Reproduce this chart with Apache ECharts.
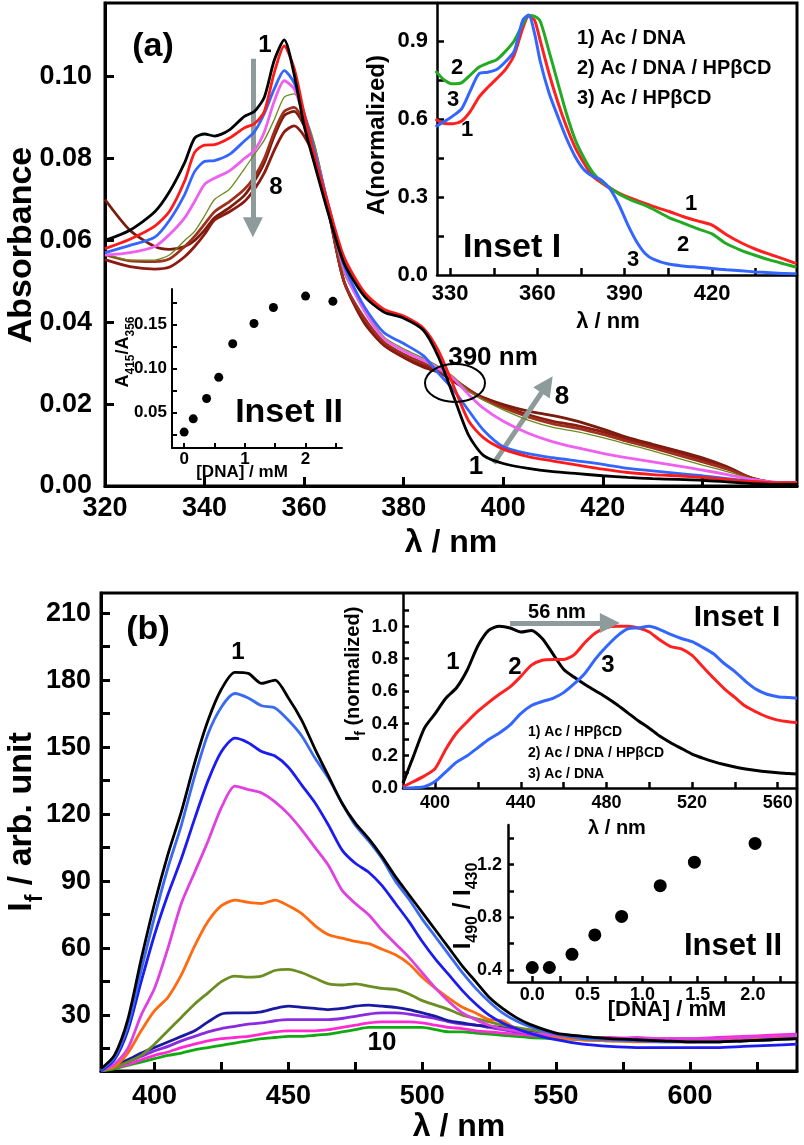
<!DOCTYPE html>
<html>
<head>
<meta charset="utf-8">
<title>Ac / DNA / HPbCD spectra</title>
<script src="https://cdn.jsdelivr.net/npm/echarts@6/dist/echarts.min.js"></script>
<style>
  html, body { margin: 0; padding: 0; background: #fff; }
  #main { width: 804px; height: 1145px; }
</style>
</head>
<body>
<div id="main"></div>
<script>
// ---- (a) absorption, curves 1..8 ----
var waveA = [320,325,330,333,336,338,340,342,345,348,350,352,354,356,358,360,362,365,368,372,376,380,384,387,390,393,396,400,405,410,415,420,425,430,435,440,445,450,455,459];
var absA1 = [.0600,.0625,.0670,.0720,.0790,.0850,.0860,.0855,.0870,.0903,.0915,.0950,.1040,.1090,.1005,.0880,.0790,.0660,.0545,.0465,.0425,.0410,.0380,.0315,.0220,.0125,.0075,.0055,.0043,.0035,.0030,.0025,.0021,.0018,.0016,.0014,.0010,.0006,.0004,.0004];
var absA2 = [.0580,.0603,.0635,.0672,.0745,.0815,.0833,.0834,.0850,.0875,.0885,.0915,.1010,.1075,.1020,.0910,.0810,.0680,.0560,.0475,.0432,.0415,.0385,.0330,.0245,.0160,.0118,.0090,.0072,.0061,.0051,.0041,.0033,.0028,.0025,.0021,.0016,.0011,.0008,.0008];
var absA3 = [.0570,.0588,.0608,.0650,.0712,.0768,.0793,.0795,.0810,.0843,.0865,.0910,.0970,.1015,.0985,.0910,.0820,.0680,.0540,.0440,.0375,.0348,.0318,.0275,.0235,.0185,.0137,.0096,.0079,.0069,.0061,.0053,.0043,.0037,.0031,.0025,.0018,.0011,.0007,.0007];
var absA4 = [.0564,.0570,.0585,.0615,.0655,.0695,.0737,.0752,.0770,.0800,.0820,.0865,.0940,.0990,.0970,.0900,.0820,.0680,.0530,.0430,.0360,.0330,.0307,.0287,.0262,.0224,.0190,.0158,.0129,.0108,.0093,.0080,.0069,.0059,.0049,.0039,.0028,.0016,.0009,.0008];
var absA5 = [.0567,.0552,.0552,.0565,.0600,.0622,.0660,.0700,.0725,.0775,.0810,.0845,.0895,.0950,.0958,.0910,.0840,.0680,.0520,.0435,.0365,.0335,.0312,.0292,.0267,.0232,.0210,.0186,.0161,.0143,.0132,.0118,.0102,.0086,.0068,.0051,.0035,.0017,.0008,.0008];
var absA6 = [.0565,.0550,.0548,.0555,.0585,.0610,.0640,.0670,.0695,.0725,.0755,.0800,.0865,.0915,.0925,.0890,.0830,.0670,.0500,.0412,.0352,.0322,.0300,.0284,.0262,.0235,.0212,.0191,.0169,.0152,.0141,.0126,.0109,.0093,.0076,.0059,.0041,.0019,.0008,.0008];
var absA7 = [.0553,.0536,.0530,.0535,.0560,.0585,.0615,.0650,.0670,.0695,.0725,.0765,.0820,.0865,.0880,.0855,.0805,.0665,.0500,.0405,.0346,.0316,.0294,.0281,.0261,.0236,.0214,.0194,.0174,.0158,.0147,.0132,.0114,.0098,.0082,.0064,.0044,.0019,.0008,.0008];
var absA8 = [.0700,.0625,.0585,.0578,.0585,.0600,.0625,.0655,.0680,.0710,.0745,.0790,.0855,.0905,.0915,.0880,.0820,.0665,.0500,.0400,.0344,.0314,.0290,.0278,.0256,.0233,.0216,.0199,.0183,.0172,.0158,.0139,.0118,.0102,.0086,.0069,.0047,.0019,.0008,.0008];

// (a) inset I, normalized absorption
var waveAI = [325,328,331,334,337,340,343,346,349,352,355,357,359,361,364,367,370,373,376,379,382,385,388,391,394,397,400,405,410,415,420,425,430,435,440,445,449];
var normAc_DNA   = [.600,.583,.582,.592,.630,.685,.722,.755,.790,.845,.950,.995,.980,.900,.775,.665,.570,.490,.430,.380,.355,.333,.315,.300,.288,.275,.263,.245,.225,.208,.192,.155,.124,.099,.079,.060,.044];
var normAc_DNA_CD = [.785,.750,.735,.740,.770,.800,.815,.828,.860,.900,.965,.998,.995,.975,.860,.740,.620,.520,.450,.395,.360,.335,.312,.295,.280,.268,.252,.222,.200,.178,.158,.120,.095,.075,.057,.042,.030];
var normAc_CD    = [.570,.590,.612,.640,.710,.775,.780,.790,.820,.860,.980,1.00,.930,.820,.700,.610,.525,.455,.405,.380,.365,.330,.270,.195,.130,.083,.060,.042,.035,.030,.025,.020,.016,.012,.009,.006,.005];

// (a) inset II, A415/A356 vs [DNA]
var dnaA   = [0, 0.15, 0.37, 0.57, 0.80, 1.15, 1.47, 2.00, 2.45];
var ratioA = [0.028, 0.043, 0.066, 0.090, 0.128, 0.151, 0.169, 0.182, 0.176];

// ---- (b) fluorescence, curves 1..10 ----
var waveB = [380,385,390,395,400,405,410,415,420,425,430,435,440,445,450,455,460,465,470,475,480,485,490,495,500,505,510,515,520,525,530,535,540,550,560,570,580,590,600,610,620,630,640];
var fluB1  = [6,12,28,55,80,102,121,143,162,176,183.5,183,178.5,180,172,162,149,137,125,116,109,101,92,84,76,68,60,52,45,38,33,29,26,22,20.5,19.5,19,18.5,18,18,18.5,19,19.5];
var fluB2  = [5.5,11,25,50,74,96,115,137,156,168,174,172,168.5,167.5,162,155,145,136,125,115,108,100,90,82,73,65,57,49,42,36,31,27.5,25,21.5,19.5,19,18.5,18,18,18,18.5,19,19.5];
var fluB3  = [5,10,23,45,66,84,100,118,135,148,154,152,148,146,141,133,125,115,104,98,94,88,80,72,63,55,48,41,35,30,26.5,24,22,19,17,16,15.5,15.5,15.5,15.5,16,16.5,17];
var fluB4  = [5,8,15,30,42,60,80,94,108,123,132.5,131,129.5,125.5,120,113,105,97,86,80,75,68,62,56,49,42,36,31,28,25.5,24,23,22,21,20,19.5,20,19.5,19.5,19.5,20,20.5,21];
var fluB5  = [5.5,7,13,23,32,38,48,61,72,79,81.5,80.5,80,81.5,79,75.5,70,66,64.5,63,62,59.5,57,53,47,42,37.5,33.5,31,28,27.5,24,22,20,19,18.5,18,18,18,18.5,19,19.5,20.5];
var fluB6  = [5,6.5,9,12,17,23,29,35,40,45,47.5,47,47.5,50,50.5,49,46.5,44,43.5,44,43,42,41.5,39.5,36.5,34.5,32.5,30,28.5,27,25.5,24.5,23.5,21.5,20.5,19.5,19,18.5,18.5,18.5,19,19,19.5];
var fluB7  = [6,7.5,10,13,15.5,18,20.5,23,27,30.5,31,31,31.5,33,34,33.5,33,32.5,33,34,34.5,34,33.5,32.5,31,29.5,27.5,26.5,25.5,25,24.5,23.5,22.5,21,20,19,18.5,18.5,18,18,18.5,19,19.5];
var fluB8  = [5.5,7,9,11.5,14,16,18.5,20.5,22.5,24,25,26,26.5,27.5,28,28,28,28,28.5,29.5,30.5,31,31,30.5,29.5,28.5,27,26,25.5,24.5,23.5,22.5,22,21,20,19.5,19.5,19,19,19.5,19.5,20,20.5];
var fluB9  = [5.5,6.5,8,10,12,13.5,15.5,17,18.5,19.5,20,20.5,21.5,22.5,23,23,23,23.5,24.5,25.5,26.5,27,27,27,26.5,25.5,24.5,24,23,22.5,22,21.5,21,20.5,20,20,19.5,19.5,19.5,20,20.5,21,21.5];
var fluB10 = [5,6,7.5,9,10.5,12,13,14.5,15.5,16.5,17.5,18.5,19.5,20,20.5,20.5,21,21.5,22.5,23.5,24.5,24.5,24.5,24.5,24.5,23.5,22.5,22.5,22,21.5,21,20.5,20,19.5,19,18.5,18.5,18.5,18.5,19,19.5,20,20.5];

// (b) inset I, normalized emission
var waveBI = [385,390,395,400,405,410,415,420,425,430,435,440,445,450,455,460,465,470,475,480,485,490,495,500,505,510,515,520,525,530,535,540,545,550,555,560,565,569];
var emAc_CD     = [.03,.20,.37,.46,.555,.62,.73,.88,.975,1.0,.99,.965,.975,.925,.83,.735,.685,.64,.60,.56,.515,.465,.415,.37,.32,.28,.245,.21,.185,.163,.145,.13,.118,.108,.10,.094,.09,.086];
var emAc_DNA_CD = [.008,.04,.075,.12,.24,.34,.41,.475,.53,.58,.625,.69,.76,.79,.795,.795,.825,.90,.96,.993,1.0,1.0,.99,.965,.915,.875,.86,.82,.75,.68,.615,.56,.505,.47,.44,.42,.41,.405];
var emAc_DNA    = [0,.002,.008,.04,.10,.16,.20,.25,.30,.34,.39,.46,.51,.535,.555,.59,.645,.71,.80,.875,.94,.985,.99,1.0,.98,.95,.925,.905,.87,.83,.77,.72,.66,.61,.58,.565,.56,.555];

// (b) inset II, I490/I430 vs [DNA]
var dnaB   = [0, 0.155, 0.36, 0.567, 0.81, 1.16, 1.47, 2.02];
var ratioB = [0.42, 0.42, 0.52, 0.667, 0.807, 1.04, 1.218, 1.36];

var FAM = 'Liberation Sans';
var GRAY = '#8d9b9b';

function pairs(xs, ys) {
    return xs.map(function (x, i) { return [x, ys[i]]; });
}
function range(a, b, step) {
    var out = [];
    for (var v = a; v <= b + step / 1000; v += step) out.push(+v.toFixed(4));
    return out;
}

// value axis with hand-picked tick / label positions
function axis(grid, min, max, labels, ticks, size, margin, fmt, lw, tl) {
    return {
        type: 'value', gridIndex: grid, min: min, max: max,
        axisLine: { show: true, onZero: false, lineStyle: { color: '#000', width: lw } },
        axisTick: { show: true, inside: true, length: tl, customValues: ticks, lineStyle: { color: '#000', width: lw } },
        axisLabel: { show: true, customValues: labels, formatter: fmt, margin: margin,
            color: '#000', fontFamily: FAM, fontWeight: 'bold', fontSize: size },
        splitLine: { show: false }
    };
}
function fix(n) { return function (v) { return (+v).toFixed(n); }; }

function line(grid, xs, ys, color, w, z) {
    return { type: 'line', xAxisIndex: grid, yAxisIndex: grid, data: pairs(xs, ys),
        showSymbol: false, smooth: 0.25, z: z || 2, silent: true,
        lineStyle: { color: color, width: w } };
}
function arrow(grid, from, to) {
    return { type: 'lines', coordinateSystem: 'cartesian2d', xAxisIndex: grid, yAxisIndex: grid,
        symbol: ['none', 'triangle'], symbolSize: 20, silent: true, z: 6,
        lineStyle: { color: GRAY, width: 5, opacity: 1 },
        data: [{ coords: [from, to] }] };
}
function txt(text, x, y, size, extra) {
    var o = { type: 'text', x: x, y: y, z: 20, silent: true,
        style: { text: text, fill: '#000', font: 'bold ' + size + 'px "' + FAM + '"',
            align: 'center', verticalAlign: 'middle' } };
    if (extra) for (var k in extra) o.style[k] = extra[k];
    return o;
}
function vtxt(text, x, y, size) {
    var o = txt(text, x, y, size);
    o.rotation = Math.PI / 2;
    return o;
}
// title with subscripts: text uses {n|..}{s|..}
function subTitle(text, x, y, size, rotate) {
    var o = {
        type: 'text', x: x, y: y, z: 20, silent: true,
        style: {
            text: text, align: 'center', verticalAlign: 'middle',
            rich: {
                n: { fontFamily: FAM, fontWeight: 'bold', fontSize: size, fill: '#000', lineHeight: size * 1.5 },
                s: { fontFamily: FAM, fontWeight: 'bold', fontSize: Math.round(size * 0.68), fill: '#000',
                     lineHeight: Math.round(size * 0.68), verticalAlign: 'bottom' }
            }
        }
    };
    if (rotate) o.rotation = Math.PI / 2;
    return o;
}

var chart = echarts.init(document.getElementById('main'), null, { renderer: 'canvas' });

var colorsA = ['#000000', '#ff1a1a', '#3366ff', '#f060f0', '#6b8a1e', '#a0301e', '#8b1a12', '#7a1c0c'];
var widthA  = [2.8, 2.8, 2.8, 2.8, 1.3, 2.8, 2.8, 2.8];
var absA = [absA1, absA2, absA3, absA4, absA5, absA6, absA7, absA8];

var colorsB = ['#000000', '#3a6af0', '#1c1cf0', '#e040e0', '#ff6a10', '#6b8e23', '#1a1aa0', '#8a2be2', '#ff2ad4', '#10aa10'];
var fluB = [fluB1, fluB2, fluB3, fluB4, fluB5, fluB6, fluB7, fluB8, fluB9, fluB10];

var series = [];
absA.forEach(function (ys, i) { series.push(line(0, waveA, ys, colorsA[i], widthA[i], 10 - i)); });
series.push(line(1, waveAI, normAc_DNA, '#ff2020', 3, 3));
series.push(line(1, waveAI, normAc_DNA_CD, '#22aa22', 3, 4));
series.push(line(1, waveAI, normAc_CD, '#3366ff', 3, 5));
series.push({ type: 'scatter', xAxisIndex: 2, yAxisIndex: 2, data: pairs(dnaA, ratioA),
    symbol: 'circle', symbolSize: 9, itemStyle: { color: '#000', opacity: 1 }, silent: true });
fluB.forEach(function (ys, i) { series.push(line(3, waveB, ys, colorsB[i], 2.8, 12 - i)); });
series.push(line(4, waveBI, emAc_CD, '#000000', 3, 3));
series.push(line(4, waveBI, emAc_DNA_CD, '#ff2020', 3, 4));
series.push(line(4, waveBI, emAc_DNA, '#3366ff', 3, 5));
series.push({ type: 'scatter', xAxisIndex: 5, yAxisIndex: 5, data: pairs(dnaB, ratioB),
    symbol: 'circle', symbolSize: 13, itemStyle: { color: '#000', opacity: 1 }, silent: true });
// arrows
series.push(arrow(0, [349.7, 0.1044], [349.7, 0.0632]));
series.push(arrow(0, [398.1, 0.0056], [408.8, 0.0248]));
series.push(arrow(4, [435, 1.02], [481.6, 1.02]));

var option = {
    animation: false,
    backgroundColor: '#ffffff',
    grid: [
        { left: 105, top: 3, width: 692, height: 483, containLabel: false, show: true, borderColor: '#000', borderWidth: 3, backgroundColor: 'transparent' },
        { left: 437, top: 3, width: 360, height: 272, containLabel: false },
        { left: 172, top: 289, width: 170, height: 159, containLabel: false },
        { left: 101, top: 593, width: 696, height: 478, containLabel: false, show: true, borderColor: '#000', borderWidth: 3, backgroundColor: 'transparent' },
        { left: 403, top: 594, width: 394, height: 194, containLabel: false },
        { left: 508, top: 825, width: 289, height: 157, containLabel: false }
    ],
    xAxis: [
        axis(0, 320, 459, range(320, 440, 20), range(340, 440, 20), 27, 9, fix(0), 3, 9),
        axis(1, 325.5, 449.2, [330, 360, 390, 420], range(330, 435, 15), 22, 8, fix(0), 2.5, 7),
        axis(2, -0.2, 2.6, [0, 1, 2], range(0, 2.5, 0.5), 17, 3, fix(0), 2, 5),
        axis(3, 380, 640, range(400, 600, 50), range(400, 625, 25), 27, 12, fix(0), 3, 9),
        axis(4, 385, 569, range(400, 560, 40), range(400, 560, 20), 18, 6, fix(0), 2.5, 6),
        axis(5, -0.22, 2.4, range(0, 2, 0.5), range(0, 2.25, 0.25), 18, 4, fix(1), 2.5, 6)
    ],
    yAxis: [
        axis(0, 0, 0.118, range(0, 0.10, 0.02), range(0.02, 0.10, 0.02), 27, 13, fix(2), 3, 9),
        axis(1, 0, 1.046, [0, 0.3, 0.6, 0.9], range(0.15, 0.9, 0.15), 22, 9, fix(1), 2.5, 7),
        axis(2, 0.01, 0.19, [0.05, 0.10, 0.15], range(0.025, 0.175, 0.025), 17, 5, fix(2), 2, 5),
        axis(3, 5, 219, range(30, 210, 30), range(15, 210, 15), 27, 10, fix(0), 3, 9),
        axis(4, 0, 1.2, range(0, 1.0, 0.2), range(0.1, 1.1, 0.1), 19, 5, fix(1), 2.5, 6),
        axis(5, 0.31, 1.5, [0.4, 0.8, 1.2], range(0.4, 1.4, 0.2), 18, 6, fix(1), 2.5, 6)
    ],
    series: series,
    graphic: [
        // panel (a)
        txt('(a)', 153, 47, 34),
        txt('1', 265, 45, 24),
        txt('8', 276, 187, 24),
        txt('1', 476, 467, 26),
        txt('8', 562, 397, 26),
        txt('390 nm', 493, 358, 26),
        { type: 'ellipse', z: 20, silent: true, shape: { cx: 455, cy: 383, rx: 30, ry: 19 },
          style: { fill: 'none', stroke: '#000', lineWidth: 2 } },
        vtxt('Absorbance', 22, 245, 34),
        txt('λ / nm', 451, 543, 32),
        // (a) inset I
        vtxt('A(normalized)', 377, 135, 24),
        txt('λ / nm', 608, 322, 22),
        txt('1) Ac / DNA', 577, 38, 20, { align: 'left' }),
        txt('2) Ac / DNA / HPβCD', 577, 68, 20, { align: 'left' }),
        txt('3) Ac / HPβCD', 577, 98, 20, { align: 'left' }),
        txt('Inset I', 463, 248, 34, { align: 'left' }),
        txt('2', 457, 68, 22), txt('3', 453, 100, 22), txt('1', 467, 130, 22),
        txt('1', 691, 204, 22), txt('2', 683, 245, 22), txt('3', 633, 260, 22),
        // (a) inset II
        subTitle('{n|A}{s|415}{n|/A}{s|356}', 123, 352, 18, true),
        txt('[DNA] / mM', 242, 472, 17),
        txt('Inset II', 289, 413, 34),
        // panel (b)
        txt('(b)', 148, 630, 34),
        txt('1', 238, 652, 24),
        txt('10', 382, 1043, 26),
        subTitle('{n|I}{s|f}{n| / arb. unit}', 22, 822, 34, true),
        txt('λ / nm', 459, 1127, 32),
        // (b) inset I
        subTitle('{n|I}{s|f}{n| (normalized)}', 353, 674, 20, true),
        txt('λ / nm', 617, 828, 20),
        txt('56 nm', 557, 612, 20),
        txt('1', 453, 662, 24), txt('2', 515, 667, 24), txt('3', 608, 665, 24),
        txt('1) Ac / HPβCD', 528, 732, 14, { align: 'left' }),
        txt('2) Ac / DNA / HPβCD', 528, 753, 14, { align: 'left' }),
        txt('3) Ac / DNA', 528, 774, 14, { align: 'left' }),
        txt('Inset I', 737, 618, 30),
        // (b) inset II
        subTitle('{n|I}{s|490}{n| / I}{s|430}', 463, 906, 24, true),
        txt('[DNA] / mM', 667, 1010, 22),
        txt('Inset II', 733, 946, 31)
    ]
};
chart.setOption(option);
</script>
</body>
</html>
